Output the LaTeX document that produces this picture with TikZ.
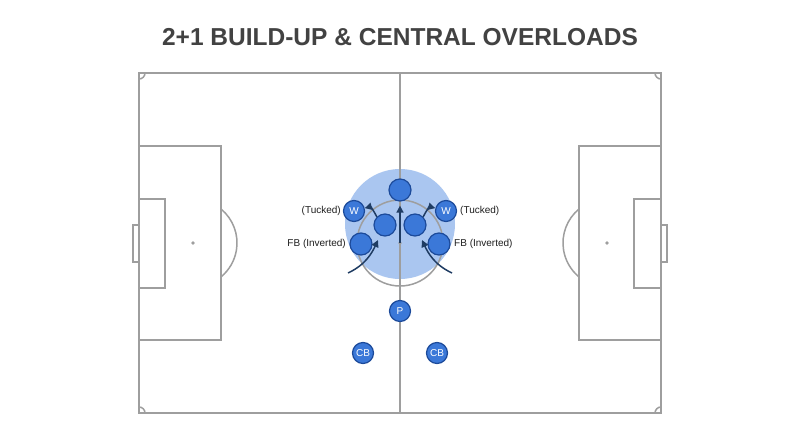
\documentclass[tikz,border=0pt]{standalone}
\usepackage{fontspec}
\setmainfont{Liberation Sans}
\usetikzlibrary{arrows.meta}
\definecolor{pline}{HTML}{9E9E9E}
\definecolor{pfill}{HTML}{3B78D8}
\definecolor{pedge}{HTML}{1C4A9A}
\definecolor{zone}{HTML}{AAC6F0}
\definecolor{arr}{HTML}{1F3C63}
\definecolor{ttl}{HTML}{424242}
\tikzset{
  pitch/.style={draw=pline, line width=1.5pt},
  player/.style={circle, fill=pfill, draw=pedge, line width=1.2pt, minimum size=22pt, inner sep=0pt, text=white, font=\fontsize{10}{10}\selectfont},
  smallplayer/.style={player, minimum size=21pt},
  lbl/.style={font=\fontsize{10}{11}\selectfont, text=black!88, inner sep=0pt},
  move/.style={draw=arr, line width=1.5pt, -{Triangle[length=7pt,width=7pt]}}
}
\begin{document}
\begin{tikzpicture}[x=1pt,y=-1pt]
\useasboundingbox (0,0) rectangle (800,447);
\fill[white] (0,0) rectangle (800,447);
% title
\node[font=\bfseries\fontsize{24.5}{26}\selectfont, text=ttl] (title) at (400,37) {2+1 BUILD-UP \& CENTRAL OVERLOADS};
% zone
\fill[zone] (400,224) circle (55);
% pitch
\draw[pitch] (139,73) rectangle (661,413);
\draw[pitch] (400,73) -- (400,413);
\draw[pitch] (400,243) circle (43);
\fill[pline] (400,243) circle (1.8);
% left
\draw[pitch] (139,146) rectangle (221,340);
\draw[pitch] (139,199) rectangle (165,288);
\draw[pitch] (139,225) -- (133,225) -- (133,262) -- (139,262);
\fill[pline] (193,243) circle (1.8);
\draw[pitch] (221,209) arc[start angle=-50.5, end angle=50.5, radius=44];
% right
\draw[pitch] (579,146) rectangle (661,340);
\draw[pitch] (634,199) rectangle (661,288);
\draw[pitch] (661,225) -- (667,225) -- (667,262) -- (661,262);
\fill[pline] (607,243) circle (1.8);
\draw[pitch] (579,209) arc[start angle=230.5, end angle=129.5, radius=44];
% corners
\draw[pitch] (145,73) arc[start angle=0, end angle=90, radius=6];
\draw[pitch] (655,73) arc[start angle=180, end angle=90, radius=6];
\draw[pitch] (145,413) arc[start angle=0, end angle=-90, radius=6];
\draw[pitch] (655,413) arc[start angle=180, end angle=270, radius=6];
% players
\node[player] (cm) at (400,190) {};
\node[smallplayer] (wl) at (354,211) {W};
\node[smallplayer] (wr) at (446,211) {W};
\node[player] (il) at (385,225) {};
\node[player] (ir) at (415,225) {};
\node[player] (fl) at (361,244) {};
\node[player] (fr) at (439,244) {};
\node[smallplayer] (p) at (400,311) {P};
\node[smallplayer] (cbl) at (363,353) {CB};
\node[smallplayer] (cbr) at (437,353) {CB};
% labels
\node[lbl, anchor=east] (twl) at (341,211) {(Tucked)};
\node[lbl, anchor=west] (twr) at (460,211) {(Tucked)};
\node[lbl, anchor=east] (tfl) at (346,244) {FB (Inverted)};
\node[lbl, anchor=west] (tfr) at (454,244) {FB (Inverted)};
% arrows
\coordinate (cs) at (400,243);
\coordinate (sl) at (348,273);
\coordinate (sr) at (452,273);
\draw[move, shorten >=4pt] (cs) -- (cm);
\draw[move] (il.north west) to[out=115, in=15] (wl);
\draw[move] (ir.north east) to[out=65, in=165] (wr);
\draw[move, shorten >=5pt] (sl) to[out=25, in=-115] (il);
\draw[move, shorten >=5pt] (sr) to[out=155, in=-65] (ir);
\end{tikzpicture}
\end{document}
